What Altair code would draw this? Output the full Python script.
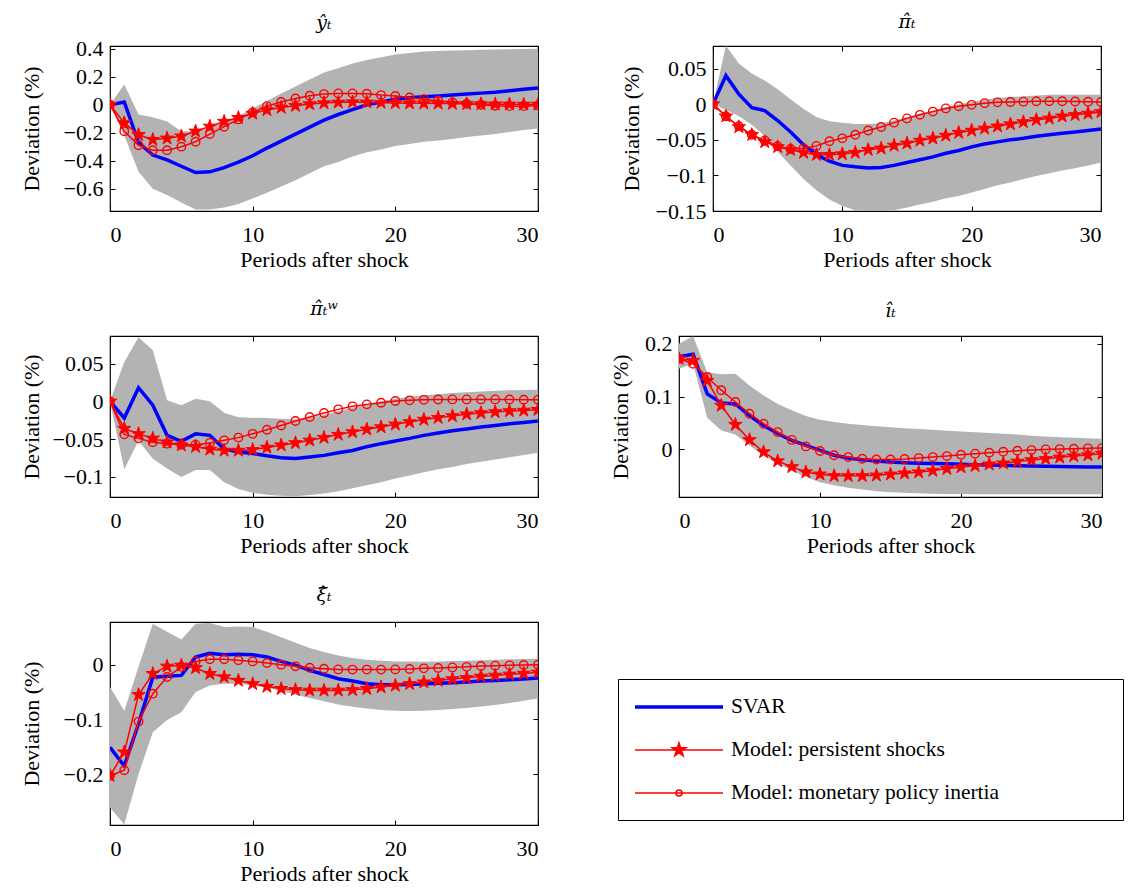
import altair as alt
import pandas as pd

T = list(range(31))
SERIES = ["SVAR", "Model: persistent shocks", "Model: monetary policy inertia"]

# ---- panel 1: y_t
y_svar = [0, 0.02, -0.27, -0.36, -0.395, -0.44, -0.485, -0.48, -0.45, -0.41, -0.365, -0.31, -0.26, -0.21, -0.16, -0.11,
          -0.07, -0.035, 0.0, 0.02, 0.04, 0.05, 0.057, 0.063, 0.07, 0.076, 0.083, 0.09, 0.1, 0.11, 0.12]
y_hi = [0, 0.145, -0.07, -0.09, -0.12, -0.19, -0.19, -0.165, -0.12, -0.08, -0.026, 0.026, 0.08, 0.13, 0.18, 0.23,
        0.26, 0.295, 0.32, 0.34, 0.36, 0.37, 0.38, 0.385, 0.388, 0.39, 0.393, 0.395, 0.397, 0.399, 0.40]
y_lo = [0, -0.22, -0.48, -0.6, -0.645, -0.70, -0.75, -0.75, -0.735, -0.71, -0.67, -0.63, -0.585, -0.54, -0.49, -0.44,
        -0.41, -0.37, -0.34, -0.32, -0.295, -0.28, -0.265, -0.255, -0.245, -0.23, -0.22, -0.21, -0.195, -0.18, -0.17]
y_pers = [0, -0.13, -0.215, -0.25, -0.24, -0.225, -0.19, -0.155, -0.12, -0.093, -0.062, -0.038, -0.02, -0.007, 0.005,
          0.012, 0.017, 0.019, 0.018, 0.015, 0.013, 0.011, 0.01, 0.009, 0.008, 0.006, 0.005, 0.004, 0.003, 0.002, 0.002]
y_inert = [0, -0.19, -0.29, -0.325, -0.325, -0.30, -0.265, -0.21, -0.157, -0.105, -0.055, -0.01, 0.02, 0.045, 0.064,
           0.076, 0.081, 0.081, 0.079, 0.069, 0.062, 0.052, 0.04, 0.029, 0.017, 0.007, 0.0, -0.007, -0.01, -0.01, -0.005]

# ---- panel 2: pi_t
p_svar = [0, 0.04, 0.014, -0.005, -0.009, -0.023, -0.039, -0.057, -0.071, -0.08, -0.086, -0.088, -0.0895, -0.089,
          -0.086, -0.082, -0.078, -0.074, -0.069, -0.065, -0.06, -0.056, -0.053, -0.05, -0.048, -0.045, -0.043, -0.041,
          -0.039, -0.037, -0.035]
p_hi = [0, 0.082, 0.057, 0.043, 0.033, 0.021, 0.007, -0.007, -0.018, -0.024, -0.026, -0.028, -0.028, -0.027, -0.023,
        -0.018, -0.013, -0.009, -0.004, 0.0, 0.003, 0.006, 0.009, 0.010, 0.011, 0.012, 0.013, 0.013, 0.013, 0.013, 0.013]
p_lo = [0, -0.008, -0.017, -0.029, -0.045, -0.067, -0.086, -0.105, -0.121, -0.134, -0.143, -0.149, -0.151, -0.151,
        -0.149, -0.145, -0.141, -0.137, -0.132, -0.129, -0.124, -0.119, -0.114, -0.11, -0.105, -0.101, -0.097, -0.093,
        -0.09, -0.086, -0.082]
p_pers = [0, -0.017, -0.032, -0.043, -0.053, -0.06, -0.064, -0.068, -0.071, -0.071, -0.07, -0.068, -0.064, -0.062,
          -0.058, -0.055, -0.051, -0.048, -0.044, -0.04, -0.037, -0.034, -0.031, -0.028, -0.025, -0.022, -0.02, -0.017,
          -0.015, -0.013, -0.011]
p_inert = [0, -0.017, -0.031, -0.043, -0.051, -0.059, -0.063, -0.062, -0.0586, -0.052, -0.048, -0.043, -0.037, -0.032,
           -0.026, -0.02, -0.015, -0.0105, -0.006, -0.003, -0.001, 0.0014, 0.0025, 0.003, 0.0035, 0.004, 0.004, 0.004,
           0.0037, 0.0033, 0.003]

# ---- panel 3: pi_t^w
w_svar = [0, -0.022, 0.018, -0.005, -0.045, -0.053, -0.043, -0.045, -0.063, -0.067, -0.069, -0.072, -0.0745, -0.0755,
          -0.0737, -0.0715, -0.068, -0.065, -0.06, -0.056, -0.0525, -0.049, -0.045, -0.042, -0.039, -0.0365, -0.034,
          -0.032, -0.0296, -0.028, -0.026]
w_hi = [0, 0.052, 0.085, 0.0675, 0.0013, -0.005, 0.0035, 0.0, -0.015, -0.021, -0.0216, -0.022, -0.023, -0.024, -0.0216,
        -0.0176, -0.013, -0.0084, -0.004, 0.0, 0.0035, 0.006, 0.008, 0.0095, 0.011, 0.012, 0.013, 0.014, 0.0146, 0.015,
        0.0154]
w_lo = [0, -0.09, -0.052, -0.076, -0.089, -0.1, -0.091, -0.091, -0.107, -0.116, -0.121, -0.1235, -0.125, -0.1257,
        -0.124, -0.122, -0.119, -0.115, -0.111, -0.107, -0.102, -0.098, -0.094, -0.09, -0.087, -0.083, -0.08, -0.077,
        -0.074, -0.071, -0.068]
w_pers = [0, -0.036, -0.043, -0.049, -0.054, -0.058, -0.06, -0.0635, -0.065, -0.065, -0.064, -0.061, -0.058, -0.055,
          -0.0516, -0.048, -0.044, -0.0406, -0.037, -0.034, -0.0304, -0.0273, -0.024, -0.0216, -0.0194, -0.017,
          -0.0154, -0.014, -0.0128, -0.012, -0.011]
w_inert = [0, -0.0437, -0.049, -0.054, -0.056, -0.0573, -0.0573, -0.055, -0.0516, -0.048, -0.043, -0.0375, -0.032,
           -0.026, -0.0207, -0.0154, -0.0106, -0.0066, -0.004, -0.0018, 0.0004, 0.0013, 0.002, 0.0024, 0.0026, 0.0026,
           0.0026, 0.0026, 0.0024, 0.0022, 0.002]

# ---- panel 4: i_t
i_svar = [0.175, 0.18, 0.105, 0.088, 0.086, 0.064, 0.045, 0.03, 0.017, 0.0076, -0.002, -0.011, -0.0164, -0.0196,
          -0.022, -0.024, -0.025, -0.026, -0.0265, -0.027, -0.028, -0.029, -0.0297, -0.030, -0.031, -0.0315, -0.032,
          -0.0325, -0.033, -0.0333, -0.0334]
i_hi = [0.2, 0.214, 0.146, 0.142, 0.143, 0.121, 0.102, 0.086, 0.074, 0.063, 0.056, 0.052, 0.0486, 0.046, 0.044, 0.042,
        0.04, 0.0385, 0.037, 0.0355, 0.034, 0.0325, 0.031, 0.0295, 0.028, 0.026, 0.0246, 0.023, 0.022, 0.021, 0.02]
i_lo = [0.153, 0.162, 0.06, 0.036, 0.028, 0.0076, -0.011, -0.027, -0.04, -0.052, -0.062, -0.068, -0.0725, -0.076,
        -0.079, -0.081, -0.082, -0.083, -0.084, -0.0843, -0.0845, -0.0848, -0.085, -0.085, -0.085, -0.085, -0.085,
        -0.085, -0.085, -0.085, -0.085]
i_pers = [0.1716, 0.168, 0.13, 0.083, 0.047, 0.018, -0.005, -0.022, -0.033, -0.043, -0.047, -0.05, -0.05, -0.05,
          -0.049, -0.047, -0.045, -0.043, -0.04, -0.0366, -0.0334, -0.031, -0.028, -0.026, -0.0227, -0.02, -0.0177,
          -0.015, -0.0126, -0.0107, -0.008]
i_inert = [0.1716, 0.162, 0.137, 0.112, 0.0896, 0.0675, 0.0486, 0.0328, 0.018, 0.0057, -0.003, -0.011, -0.0145,
           -0.0177, -0.019, -0.019, -0.018, -0.0164, -0.0145, -0.0126, -0.01, -0.008, -0.0063, -0.0044, -0.0025,
           -0.0013, 0.0, 0.0006, 0.0013, 0.002, 0.0025]

# ---- panel 5: xi_t
x_svar = [-0.151, -0.185, -0.108, -0.023, -0.021, -0.0196, 0.014, 0.021, 0.018, 0.019, 0.018, 0.014, 0.006, -0.001,
          -0.0104, -0.018, -0.0257, -0.03, -0.035, -0.0367, -0.0367, -0.036, -0.035, -0.034, -0.033, -0.0315, -0.03,
          -0.029, -0.0275, -0.026, -0.0245]
x_hi = [-0.041, -0.084, -0.004, 0.075, 0.06, 0.046, 0.075, 0.076, 0.069, 0.07, 0.069, 0.06, 0.05, 0.04, 0.0306, 0.023,
        0.017, 0.012, 0.009, 0.0073, 0.006, 0.0058, 0.0055, 0.006, 0.0067, 0.0073, 0.008, 0.009, 0.0098, 0.0104, 0.011]
x_lo = [-0.261, -0.292, -0.2, -0.1235, -0.101, -0.087, -0.05, -0.038, -0.035, -0.035, -0.038, -0.042, -0.048, -0.055,
        -0.061, -0.067, -0.073, -0.077, -0.08, -0.0826, -0.084, -0.0845, -0.084, -0.083, -0.081, -0.079, -0.0765,
        -0.0735, -0.07, -0.066, -0.062]
x_pers = [-0.203, -0.16, -0.055, -0.0165, -0.003, -0.0012, -0.006, -0.0165, -0.0226, -0.029, -0.035, -0.04, -0.044,
          -0.046, -0.047, -0.047, -0.047, -0.046, -0.044, -0.041, -0.038, -0.035, -0.032, -0.029, -0.026, -0.024,
          -0.0214, -0.0196, -0.0177, -0.016, -0.014]
x_inert = [-0.203, -0.193, -0.104, -0.053, -0.0226, -0.004, 0.006, 0.0098, 0.0098, 0.008, 0.006, 0.003, 0.0, -0.003,
           -0.0055, -0.0073, -0.0086, -0.009, -0.009, -0.009, -0.0086, -0.008, -0.0067, -0.006, -0.005, -0.004,
           -0.0024, -0.0018, -0.0012, -0.0006, 0.0]

X_TICKS = [0, 10, 20, 30]
FONT = "Liberation Serif"
TFONT = "DejaVu Serif"
GREY = "#b3b3b3"
BLUE = "#0000ff"
RED = "#ff0000"

STAR = ("M0,-1L0.2245,-0.309L0.951,-0.309L0.363,0.118L0.588,0.809L0,0.382L-0.588,0.809L-0.363,0.118"
        "L-0.951,-0.309L-0.2245,-0.309Z")
LEG_LINE = "M-4.4,0H4.4"
LEG_STAR = (LEG_LINE + "M0,-0.7L0.157,-0.216L0.666,-0.216L0.254,0.083L0.412,0.566L0,0.267L-0.412,0.566"
            "L-0.254,0.083L-0.666,-0.216L-0.157,-0.216Z")
LEG_CIRC = LEG_LINE + "M0.3,0A0.3,0.3,0,1,1,-0.3,0A0.3,0.3,0,1,1,0.3,0Z"

legend = alt.Legend(
    title=None, orient="none", legendX=508, legendY=633, direction="vertical",
    labelFont=FONT, labelFontSize=21.5, labelColor="black", labelLimit=2000,
    labelExpr="datum.label + '" + "\u00a0" * 20 + "\u200b'",
    symbolSize=400, symbolOffset=33, labelOffset=40, symbolOpacity=1,
    rowPadding=21, padding=16, strokeColor="black",
)


def legend_layer():
    src = alt.Chart(alt.Data(values=[])).mark_point(opacity=1)
    return src.encode(
        shape=alt.Shape("series:N", scale=alt.Scale(domain=SERIES, range=[LEG_LINE, LEG_STAR, LEG_CIRC]),
                        legend=legend),
        stroke=alt.Stroke("series:N", scale=alt.Scale(domain=SERIES, range=[BLUE, RED, RED]), legend=legend),
        fill=alt.Fill("series:N", scale=alt.Scale(domain=SERIES, range=["transparent", RED, "transparent"]),
                      legend=legend),
        strokeWidth=alt.StrokeWidth("series:N", scale=alt.Scale(type="ordinal", domain=SERIES,
                                                                range=[3.5, 1.6, 1.6]), legend=legend),
    )


def panel(title, toff, svar, lo, hi, pers, inert, ydom, yticks, yfmt, w, h, left_col=True, with_legend=False):
    df = pd.DataFrame({"t": T, "svar": svar, "lo": lo, "hi": hi, "pers": pers, "inert": inert})
    base = alt.Chart(df)
    xs = alt.Scale(domain=[0, 30], nice=False, zero=False)
    ys = alt.Scale(domain=ydom, nice=False, zero=False)
    common = dict(offset=-5, tickSize=5, tickColor="black", tickWidth=1, domain=False, grid=False,
                  labelFont=FONT, labelFontSize=22, labelColor="black",
                  titleFont=FONT, titleFontSize=22, titleFontWeight="normal", titleColor="black")
    x_main = alt.X("t:Q", scale=xs, axis=alt.Axis(orient="bottom", values=X_TICKS, format="d",
                                                  title="Periods after shock", labelPadding=13,
                                                  titlePadding=4, **common))
    yext = dict(minExtent=65, maxExtent=65, titlePadding=7) if left_col else dict(titlePadding=12)
    y_main = alt.Y("lo:Q", scale=ys, axis=alt.Axis(orient="left", values=yticks, format=yfmt,
                                                   title="Deviation (%)", labelPadding=7,
                                                   **yext, **common))
    x_top = alt.X("t:Q", scale=xs, axis=alt.Axis(orient="top", values=X_TICKS, labels=False, title=None,
                                                 **common))
    y_right = alt.Y("pers:Q", scale=ys, axis=alt.Axis(orient="right", values=yticks, labels=False,
                                                      title=None, **common))
    xn = alt.X("t:Q", scale=xs, axis=None)

    band = base.mark_area(color=GREY, clip=True).encode(x=x_main, y=y_main, y2="hi:Q")
    blue = base.mark_line(color=BLUE, strokeWidth=3.5, clip=True).encode(
        x=xn, y=alt.Y("svar:Q", scale=ys, axis=None))
    pline = base.mark_line(color=RED, strokeWidth=1.5, clip=True).encode(
        x=xn, y=alt.Y("pers:Q", scale=ys, axis=None))
    ppts = base.mark_point(shape=STAR, size=200, filled=True, color=RED, stroke=RED, strokeWidth=1,
                           opacity=1, clip=True).encode(x=x_top, y=y_right)
    iline = base.mark_line(color=RED, strokeWidth=1.5, clip=True).encode(
        x=xn, y=alt.Y("inert:Q", scale=ys, axis=None))
    ipts = base.mark_point(shape="circle", size=72, filled=False, color=RED, strokeWidth=1.4,
                           opacity=1, clip=True).encode(x=xn, y=alt.Y("inert:Q", scale=ys, axis=None))
    layers = [band, blue, pline, ppts, iline, ipts]
    if with_legend:
        layers.append(legend_layer())
    return alt.layer(*layers).properties(
        width=w, height=h,
        title=alt.TitleParams(text=title, font=TFONT, fontSize=19, fontStyle="italic", fontWeight="normal",
                              color="black", offset=toff))


p1 = panel("y\u0302\u209c", 5, y_svar, y_lo, y_hi, y_pers, y_inert, [-0.76, 0.42],
           [-0.6, -0.4, -0.2, 0, 0.2, 0.4], ".1~f", 428, 165, with_legend=True)
p2 = panel("\u03c0\u0302\u209c", 14, p_svar, p_lo, p_hi, p_pers, p_inert, [-0.15, 0.0816],
           [-0.15, -0.1, -0.05, 0, 0.05], ".2~f", 388, 165, left_col=False)
p3 = panel("\u03c0\u0302\u209c\u02b7", 17, w_svar, w_lo, w_hi, w_pers, w_inert, [-0.1266, 0.0865],
           [-0.1, -0.05, 0, 0.05], ".2~f", 428, 161)
p4 = panel("\u0131\u0302\u209c", 12, i_svar, i_lo, i_hi, i_pers, i_inert, [-0.09, 0.2145],
           [0, 0.1, 0.2], ".1~f", 423, 161, left_col=False)
p5 = panel("\u03be\u0302\u209c", 17, x_svar, x_lo, x_hi, x_pers, x_inert, [-0.293, 0.078],
           [-0.2, -0.1, 0], ".1~f", 428, 203)

row1 = alt.hconcat(p1, p2, spacing=175, bounds="flush")
row2 = alt.hconcat(p3, p4, spacing=141, bounds="flush")
chart = alt.vconcat(row1, row2, p5, spacing=27).properties(
    padding={"left": 11, "top": 3, "right": 5, "bottom": 5}, background="white"
).configure_view(stroke="black", strokeWidth=1.2)

chart.save("out.html", embed_options={"renderer": "svg", "actions": False})
